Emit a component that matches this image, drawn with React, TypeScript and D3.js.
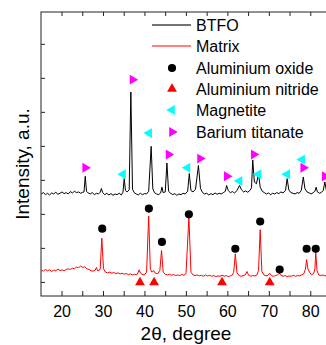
import React from 'react';
import * as d3 from 'd3';

// XRD patterns, [2theta, intensity a.u.]
const btfo: [number, number][] = [
  [15.0, 2.60], [15.5, 2.64], [16.0, 2.58], [16.5, 2.62], [17.0, 2.57], [17.5, 2.63], [18.0, 2.60],
  [18.5, 2.65], [19.0, 2.59], [19.5, 2.62], [20.0, 2.66], [20.5, 2.61], [21.0, 2.64], [21.5, 2.60],
  [22.0, 2.67], [22.5, 2.63], [23.0, 2.68], [23.5, 2.64], [24.0, 2.66], [24.5, 2.62], [25.0, 2.65],
  [25.3, 2.66], [25.6, 3.12], [25.9, 2.68], [26.3, 2.63], [26.8, 2.60], [27.3, 2.64], [27.8, 2.58],
  [28.3, 2.62], [28.8, 2.60], [29.2, 2.65], [29.5, 2.76], [29.8, 2.64], [30.3, 2.58], [30.8, 2.62],
  [31.3, 2.57], [31.8, 2.61], [32.3, 2.56], [32.8, 2.60], [33.3, 2.58], [33.8, 2.62], [34.3, 2.57],
  [34.7, 2.65], [35.0, 3.05], [35.3, 2.70], [35.7, 2.66], [36.2, 2.72], [36.6, 5.60], [37.0, 2.74],
  [37.4, 2.64], [37.9, 2.60], [38.4, 2.57], [38.9, 2.62], [39.4, 2.58], [39.9, 2.61], [40.4, 2.60],
  [40.9, 2.68], [41.5, 4.00], [41.9, 2.75], [42.3, 2.64], [42.8, 2.60], [43.3, 2.58], [43.8, 2.63],
  [44.1, 2.80], [44.4, 2.64], [44.9, 2.66], [45.3, 3.51], [45.7, 2.68], [46.2, 2.62], [46.7, 2.58],
  [47.2, 2.61], [47.7, 2.56], [48.2, 2.60], [48.7, 2.58], [49.2, 2.62], [49.7, 2.60], [50.3, 2.68],
  [50.7, 3.20], [51.1, 2.70], [51.6, 2.66], [52.2, 2.74], [52.9, 3.44], [53.4, 2.76], [53.9, 2.64],
  [54.4, 2.60], [54.9, 2.62], [55.4, 2.57], [55.9, 2.61], [56.4, 2.58], [56.9, 2.63], [57.4, 2.59],
  [57.9, 2.62], [58.4, 2.60], [58.9, 2.64], [59.4, 2.68], [59.7, 2.85], [60.1, 2.70], [60.6, 2.64],
  [61.1, 2.67], [61.6, 2.63], [62.2, 2.70], [62.8, 2.85], [63.3, 2.72], [63.8, 2.66], [64.3, 2.69],
  [64.8, 2.65], [65.3, 2.70], [65.7, 2.78], [66.0, 3.60], [66.4, 2.95], [66.9, 2.90], [67.4, 3.20],
  [67.8, 2.80], [68.3, 2.68], [68.8, 2.64], [69.3, 2.60], [69.8, 2.63], [70.3, 2.58], [70.8, 2.62],
  [71.3, 2.60], [71.8, 2.64], [72.3, 2.61], [72.8, 2.66], [73.3, 2.63], [73.9, 2.70], [74.3, 3.05],
  [74.7, 2.72], [75.2, 2.64], [75.7, 2.62], [76.2, 2.60], [76.7, 2.64], [77.2, 2.62], [77.7, 2.70],
  [78.2, 3.10], [78.6, 2.75], [79.1, 2.66], [79.6, 2.63], [80.1, 2.60], [80.6, 2.64], [81.0, 2.68],
  [81.3, 2.80], [81.6, 2.66], [82.1, 2.62], [82.6, 2.65], [83.0, 2.70], [83.4, 2.95], [83.8, 2.68],
  [84.3, 2.63], [85.0, 2.61],
];

const matrix: [number, number][] = [
  [15.0, 0.36], [15.5, 0.33], [16.0, 0.38], [16.5, 0.34], [17.0, 0.37], [17.5, 0.32], [18.0, 0.36],
  [18.5, 0.34], [19.0, 0.39], [19.5, 0.35], [20.0, 0.37], [20.5, 0.34], [21.0, 0.38], [21.5, 0.40],
  [22.0, 0.38], [22.5, 0.42], [23.0, 0.40], [23.5, 0.45], [24.0, 0.43], [24.5, 0.48], [25.0, 0.44],
  [25.5, 0.46], [26.0, 0.40], [26.5, 0.38], [27.0, 0.34], [27.5, 0.33], [28.0, 0.36], [28.3, 0.44],
  [28.6, 0.34], [29.2, 0.38], [29.6, 1.30], [30.0, 0.40], [30.5, 0.30], [31.0, 0.28], [31.5, 0.30],
  [32.0, 0.27], [32.5, 0.29], [33.0, 0.26], [33.5, 0.28], [34.0, 0.25], [34.5, 0.27], [35.0, 0.24],
  [35.5, 0.26], [36.0, 0.23], [36.5, 0.25], [37.0, 0.22], [37.5, 0.24], [38.0, 0.22], [38.3, 0.28],
  [38.6, 0.37], [38.9, 0.28], [39.3, 0.24], [39.8, 0.22], [40.4, 0.30], [40.9, 1.95], [41.3, 0.38],
  [41.7, 0.30], [42.1, 0.35], [42.5, 0.27], [43.1, 0.26], [43.6, 0.35], [44.0, 0.94], [44.4, 0.30],
  [44.9, 0.24], [45.4, 0.22], [45.9, 0.24], [46.4, 0.21], [46.9, 0.23], [47.4, 0.20], [47.9, 0.22],
  [48.4, 0.20], [48.9, 0.23], [49.4, 0.21], [49.9, 0.26], [50.6, 1.90], [51.1, 0.30], [51.6, 0.22],
  [52.1, 0.20], [52.6, 0.22], [53.1, 0.19], [53.6, 0.21], [54.1, 0.18], [54.6, 0.22], [55.1, 0.19],
  [55.6, 0.21], [56.1, 0.18], [56.6, 0.20], [57.1, 0.17], [57.6, 0.19], [58.1, 0.18], [58.6, 0.21],
  [59.1, 0.18], [59.6, 0.20], [60.1, 0.17], [60.6, 0.19], [61.1, 0.22], [61.4, 0.30], [61.8, 0.84],
  [62.2, 0.28], [62.7, 0.20], [63.2, 0.18], [63.7, 0.20], [64.2, 0.22], [64.6, 0.32], [65.0, 0.21],
  [65.5, 0.18], [66.0, 0.20], [66.5, 0.19], [67.0, 0.22], [67.4, 0.35], [67.8, 1.55], [68.2, 0.32],
  [68.7, 0.22], [69.2, 0.19], [69.7, 0.21], [70.1, 0.27], [70.5, 0.20], [71.0, 0.18], [71.5, 0.20],
  [72.0, 0.22], [72.4, 0.27], [72.8, 0.21], [73.3, 0.18], [73.8, 0.20], [74.3, 0.17], [74.8, 0.19],
  [75.3, 0.18], [75.8, 0.21], [76.3, 0.18], [76.8, 0.20], [77.3, 0.19], [77.8, 0.22], [78.3, 0.25],
  [78.7, 0.38], [79.0, 0.67], [79.3, 0.40], [79.7, 0.30], [80.2, 0.22], [80.7, 0.26], [81.0, 0.40],
  [81.2, 0.89], [81.5, 0.35], [81.9, 0.22], [82.4, 0.20], [82.9, 0.22], [83.4, 0.19], [84.0, 0.21],
  [85.0, 0.20],
];

// phase markers [2theta, height]
const aluminiumOxide: [number, number][] = [
  [29.7, 1.58], [40.95, 2.17], [44.1, 1.19], [50.6, 2.0], [61.8, 0.99], [67.8, 1.79], [72.5, 0.38], [79.0, 0.99], [81.2, 0.99],
];
const aluminiumNitride: [number, number][] = [[38.8, 0.0], [42.2, 0.0], [58.6, 0.0], [70.1, 0.0]];
const magnetite: [number, number][] = [
  [34.7, 3.18], [41.0, 4.39], [50.25, 3.37], [62.8, 2.98], [67.4, 3.18], [74.3, 3.18], [77.9, 3.61],
];
const bariumTitanate: [number, number][] = [
  [25.6, 3.37], [37.0, 5.96], [45.7, 3.76], [53.3, 3.64], [59.75, 3.12], [66.25, 3.76], [78.2, 3.37], [83.4, 3.12],
];

const xTicks = [20, 30, 40, 50, 60, 70, 80];
const xMinorTicks = [20, 25, 30, 35, 40, 45, 50, 55, 60, 65, 70, 75, 80];
const yTicks = [0, 1, 2, 3, 4, 5, 6, 7];

const FONT = 'Arial, "Liberation Sans", sans-serif';

const App: React.FC = () => {
  const x = d3.scaleLinear().domain([15, 85]).range([41.3, 331.5]);
  const y = d3.scaleLinear().domain([-0.4, 7.95]).range([296, 12]);
  const line = d3.line<[number, number]>().x(d => x(d[0])).y(d => y(d[1]));

  const tri = d3.symbol(d3.symbolTriangle, 42)() as string;
  const dot = d3.symbol(d3.symbolCircle, 52)() as string;

  const legendItems = [
    { label: 'BTFO', kind: 'line', color: '#444' },
    { label: 'Matrix', kind: 'line', color: '#ff0000' },
    { label: 'Aluminium oxide', kind: 'dot', color: '#000' },
    { label: 'Aluminium nitride', kind: 'up', color: '#ff0000' },
    { label: 'Magnetite', kind: 'left', color: '#00ffff' },
    { label: 'Barium titanate', kind: 'right', color: '#ff00ff' },
  ];
  const legendY = [25, 46, 68, 89, 110, 132];

  return (
    <svg width={326} height={345} style={{ position: 'absolute', left: 0, top: 0, background: '#fff' }} fontFamily={FONT}>
      <defs>
        <clipPath id="plot">
          <rect x={41} y={12} width={291} height={284} />
        </clipPath>
      </defs>

      <g clipPath="url(#plot)">
        <path d={line(matrix) as string} fill="none" stroke="#ff0000" strokeWidth={1} />
        <path d={line(btfo) as string} fill="none" stroke="#000" strokeWidth={1} />
      </g>

      {aluminiumOxide.map((d, i) => (
        <path key={'ao' + i} d={dot} transform={`translate(${x(d[0])},${y(d[1])})`} fill="#000" />
      ))}
      {aluminiumNitride.map((d, i) => (
        <path key={'an' + i} d={tri} transform={`translate(${x(d[0])},${y(d[1])})`} fill="#ff0000" />
      ))}
      {magnetite.map((d, i) => (
        <path key={'mg' + i} d={tri} transform={`translate(${x(d[0])},${y(d[1])}) rotate(-90)`} fill="#00ffff" />
      ))}
      {bariumTitanate.map((d, i) => (
        <path key={'bt' + i} d={tri} transform={`translate(${x(d[0])},${y(d[1])}) rotate(90)`} fill="#ff00ff" />
      ))}

      {/* frame */}
      <rect x={41} y={12} width={x(85) - 41} height={284} fill="none" stroke="#222" strokeWidth={1} />

      {xMinorTicks.map(t => (
        <g key={'xt' + t}>
          <line x1={x(t)} x2={x(t)} y1={296} y2={291} stroke="#222" />
          <line x1={x(t)} x2={x(t)} y1={12} y2={16} stroke="#222" />
        </g>
      ))}
      {yTicks.map(t => (
        <line key={'yt' + t} x1={41} x2={45} y1={y(t)} y2={y(t)} stroke="#222" />
      ))}
      {xTicks.map(t => (
        <text key={'xl' + t} x={x(t)} y={317} textAnchor="middle" fontSize={16} fill="#000">{t}</text>
      ))}

      <text x={186} y={340} textAnchor="middle" fontSize={19} fill="#000">2θ, degree</text>
      <text transform="translate(29,164) rotate(-90)" textAnchor="middle" fontSize={19} fill="#000">Intensity, a.u.</text>

      {legendItems.map((it, i) => {
        const ly = legendY[i];
        let mark: React.ReactNode = null;
        if (it.kind === 'line') mark = <line x1={152} x2={191} y1={ly} y2={ly} stroke={it.color} strokeWidth={it.label === 'BTFO' ? 1.5 : 1} />;
        else if (it.kind === 'dot') mark = <path d={dot} transform={`translate(172,${ly})`} fill={it.color} />;
        else if (it.kind === 'up') mark = <path d={tri} transform={`translate(172,${ly})`} fill={it.color} />;
        else if (it.kind === 'left') mark = <path d={tri} transform={`translate(172,${ly}) rotate(-90)`} fill={it.color} />;
        else mark = <path d={tri} transform={`translate(172,${ly}) rotate(90)`} fill={it.color} />;
        return (
          <g key={'lg' + i}>
            {mark}
            <text x={196} y={ly + 6} fontSize={16} fill="#000">{it.label}</text>
          </g>
        );
      })}
    </svg>
  );
};

export default App;
